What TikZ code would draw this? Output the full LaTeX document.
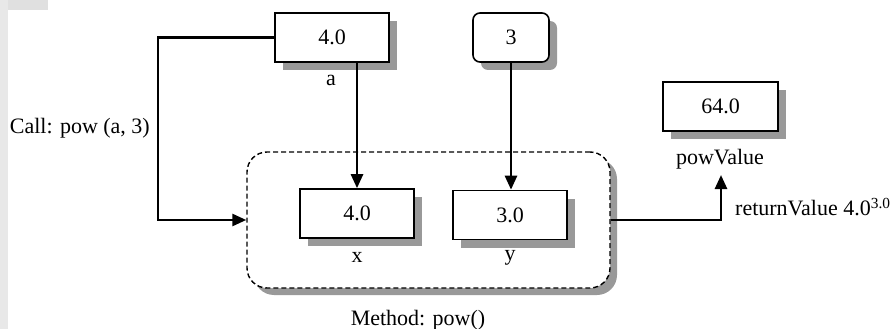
\documentclass[tikz,border=0pt]{standalone}
\usepackage{fontspec}
\setmainfont{Liberation Serif}
\usetikzlibrary{arrows.meta,shadows}
\tikzset{
  valbox/.style={draw, line width=1.6pt, fill=white, minimum width=114pt, minimum height=49pt, inner sep=0pt,
    drop shadow={shadow xshift=8pt, shadow yshift=-8pt, fill=black!40, opacity=1}},
  lbl/.style={inner sep=0pt},
  conn/.style={line width=2.6pt, -{Triangle[length=14pt,width=12pt]}},
}
\begin{document}
\begin{tikzpicture}[x=1pt,y=-1pt, font=\fontsize{22}{26}\selectfont]
\useasboundingbox (0,0) rectangle (895,329);
\fill[black!9] (0,0) rectangle (8,329);
\fill[black!12] (8,0) rectangle (48,10);
% method box
\node[draw, dashed, dash pattern=on 5pt off 3pt, line width=1.4pt, rounded corners=20pt, fill=white,
  minimum width=363pt, minimum height=136pt, inner sep=0pt,
  drop shadow={shadow xshift=7pt, shadow yshift=-7pt, fill=black!40, opacity=1}] (method) at (428.5,220) {};
\node[lbl] (mlabel) at (418,320) {Method: pow()};
% boxes
\node[valbox] (a) at (332,37.5) {4.0};
\node[lbl] (alabel) at (331,80) {a};
\node[valbox, minimum width=76pt, rounded corners=7pt] (three) at (511,37.5) {3};
\node[valbox] (x) at (357,213.5) {4.0};
\node[lbl] (xlabel) at (357,257) {x};
\node[valbox] (y) at (510,215) {3.0};
\node[lbl] (ylabel) at (510,258) {y};
\node[valbox, minimum width=115pt] (pv) at (720.5,106.5) {64.0};
\node[lbl] (pvlabel) at (720,159) {powValue};
\node[lbl, anchor=east] (call) at (150,128) {Call: pow (a, 3)};
\node[lbl, anchor=west] (ret) at (735,207) {returnValue 4.0\textsuperscript{3.0}};
\coordinate (bend) at (158,37.5);
\coordinate (tip) at (721,175);
% connectors
\draw[conn] (a.west) -- (bend) |- (method.west);
\draw[conn] (a.south -| x.north) -- (x.north);
\draw[conn] (three.south) -- (three.south |- y.north);
\draw[conn] (method.east) -| (tip);
\end{tikzpicture}
\end{document}
